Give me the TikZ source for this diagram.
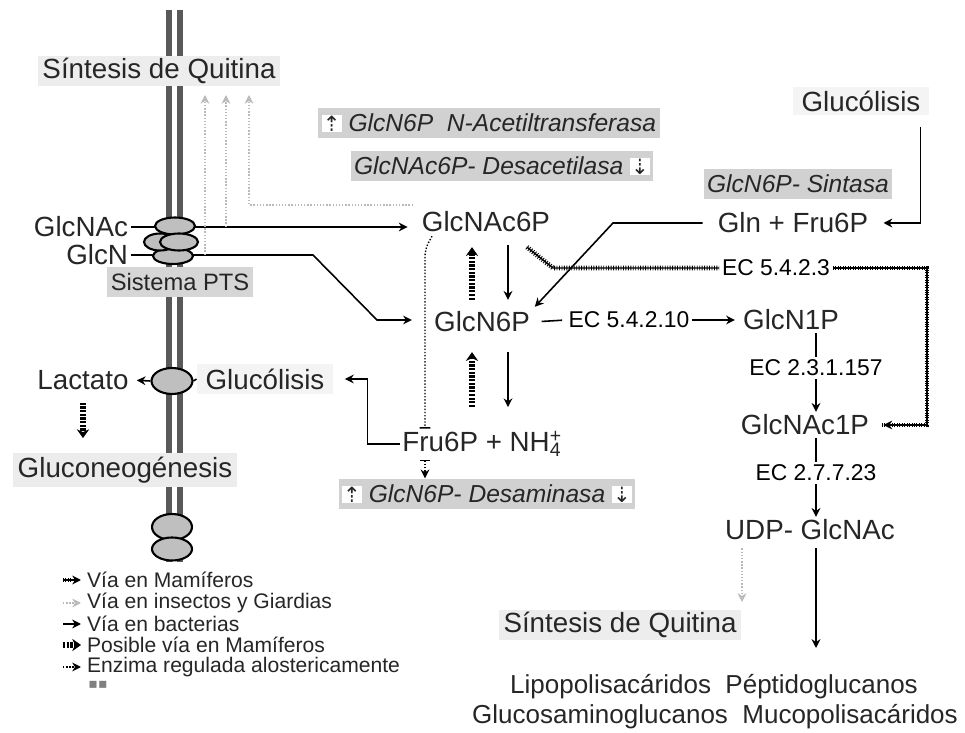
\documentclass[tikz,border=0pt]{standalone}
\usepackage{fontspec}
\setmainfont{Liberation Sans}
\newfontfamily\symf{DejaVu Sans}
\usetikzlibrary{arrows.meta,calc,shapes.geometric}

\newcommand\fbig{\fontsize{15.8}{18}\selectfont}
\newcommand\fec{\fontsize{13}{15}\selectfont}
\newcommand\fenz{\fontsize{14}{16}\selectfont\itshape}
\newcommand\fleg{\fontsize{12}{14}\selectfont}
\newcommand\fpoly{\fontsize{14.8}{17}\selectfont}
\newcommand\upico{{\setlength{\fboxsep}{0.6pt}\colorbox{white}{\symf\upshape\fontsize{12}{12}\selectfont ⇡}}}
\newcommand\downico{{\setlength{\fboxsep}{0.6pt}\colorbox{white}{\symf\upshape\fontsize{12}{12}\selectfont ⇣}}}

\tikzset{
  lbl/.style={font=\fbig, text=black!85, inner sep=1.5pt},
  qbox/.style={lbl, fill=gray!14, minimum height=0.56cm, inner xsep=2.5pt},
  gbox/.style={lbl, fill=gray!9, minimum height=0.6cm, inner xsep=5pt},
  ptsbox/.style={font=\fontsize{13.5}{15}\selectfont, text=black!85, fill=gray!32, minimum height=0.54cm, inner xsep=2pt},
  enz/.style={font=\fenz, text=black!85, fill=gray!36, minimum height=0.56cm, inner xsep=2pt},
  ecl/.style={font=\fec, inner sep=1.5pt},
  leg/.style={font=\fleg, text=black!85, anchor=west, inner sep=1pt},
  memb/.style={line width=3.4pt, color=black!65},
  prot/.style={ellipse, draw, line width=1.2pt, fill=gray!50, inner sep=0pt},
  bac/.style={-{Stealth[length=5pt,width=5pt]}, line width=0.9pt},
  ins/.style={-{Stealth[length=5pt,width=5pt,open]}, gray!55, densely dotted, line width=0.8pt},
  hatch/.style={postaction={draw, -, line width=2.8pt, dash pattern=on 0.5pt off 0.9pt, shorten >=#1}},
  hatch/.default=0pt,
  mam/.style={-{Stealth[length=5pt,width=5pt]}, line width=0.8pt, hatch=5pt},
  mamline/.style={line width=0.8pt, hatch},
  posib/.style={-{Stealth[length=5pt,width=7pt,line width=0.4pt]}, line width=3.6pt, dash pattern=on 1.3pt off 0.8pt},
  alos/.style={densely dotted, line width=0.8pt},
  alosar/.style={alos, -{Stealth[length=5pt,width=5pt]}}
}

\begin{document}
\begin{tikzpicture}[x=0.02cm,y=-0.02cm]
  \useasboundingbox (0,0) rectangle (965,733);

  % membrana
  \draw[memb] (169,10) -- (169,562);
  \draw[memb] (180,10) -- (180,562);

  % puntos de paso
  \coordinate (q1) at (205,95);
  \coordinate (q2) at (226,95);
  \coordinate (q3) at (249,95);
  \coordinate (b1) at (313,255);
  \coordinate (b2) at (377,320);
  \coordinate (b3) at (613,223);
  \coordinate (b4) at (553,268);
  \coordinate (b5) at (927,268);
  \coordinate (al) at (425,0);
  \coordinate (qin) at (742,602);
  \coordinate (pend) at (816,648);

  % nodos
  \node[qbox] (sqtop) at (159,71) {Síntesis de Quitina};
  \node[lbl, anchor=east] (glcnacL) at (131,227) {GlcNAc};
  \node[lbl, anchor=east] (glcnL) at (131,255) {GlcN};
  \node[enz] (acetil) at (489,123) {\upico\ GlcN6P\ \ N-Acetiltransferasa};
  \node[enz] (desac) at (502,166) {GlcNAc6P- Desacetilasa \downico};
  \node[lbl] (glcnac6p) at (486,222) {GlcNAc6P};
  \node[lbl] (glcn6p) at (482,322) {GlcN6P};
  \node[lbl, anchor=base] (fru6p) at (482,452) {Fru6P + NH\rlap{\textsuperscript{+}}\textsubscript{4}};
  \node[enz] (desam) at (487,494) {\upico\ GlcN6P- Desaminasa \downico};
  \node[gbox] (glyc2) at (265,379) {Glucólisis};
  \node[lbl] (lact) at (83,380) {Lactato};
  \node[qbox, fill=gray!15, minimum height=0.7cm] (gluco) at (125,470) {Gluconeogénesis};
  \node[gbox, minimum height=0.56cm] (glyc1) at (861,101) {Glucólisis};
  \node[enz] (sint) at (798,184) {GlcN6P- Sintasa};
  \node[lbl] (glnfru) at (793,223) {Gln + Fru6P};
  \node[ecl] (ec5423) at (776,268) {EC 5.4.2.3};
  \node[ecl] (ec54210) at (629,320) {EC 5.4.2.10};
  \node[lbl] (glcn1p) at (791,320) {GlcN1P};
  \node[ecl] (ec23) at (816,368) {EC 2.3.1.157};
  \node[lbl] (glcnac1p) at (805,425) {GlcNAc1P};
  \node[ecl] (ec27) at (816,473) {EC 2.7.7.23};
  \node[lbl] (udp) at (810,530) {UDP- GlcNAc};
  \node[qbox] (sqbot) at (620,625) {Síntesis de Quitina};
  \node[font=\fpoly, text=black!85] (poly1) at (714,687) {Lipopolisacáridos\ \ Péptidoglucanos};
  \node[font=\fpoly, text=black!85] (poly2) at (715,717) {Glucosaminoglucanos\ \ Mucopolisacáridos};

  % transporte (PTS)
  \draw[bac, shorten >=6.5pt] (glcnacL.east) -- (glcnacL.east -| glcnac6p.west);
  \draw[bac, shorten >=11pt] (glcnL.east) -- (b1) -- (b2) -- (b2 -| glcn6p.west);
  \draw[ins] (q1 |- glcnL.east) -- (q1);
  \draw[ins] (q2 |- glcnacL.east) -- (q2);
  \draw[ins] ($(glcnac6p.north west)+(-6,-4)$) -| (q3);

  \node[prot, minimum width=0.8cm, minimum height=0.34cm] (pa) at (175,226) {};
  \node[prot, minimum width=0.8cm, minimum height=0.32cm] (pb) at (173,256) {};
  \node[prot, minimum width=0.64cm, minimum height=0.34cm] (pc) at (160,242) {};
  \node[prot, minimum width=0.76cm, minimum height=0.34cm] (pd) at (179,242) {};
  \node[ptsbox] (pts) at (180,282) {Sistema PTS};

  % GlcNAc6P <-> GlcN6P <-> Fru6P
  \draw[posib] ($(glcn6p.north)+(-10,-9)$) -- ($(glcnac6p.south)+(-14,12)$);
  \draw[bac] ($(glcnac6p.south)+(22,10)$) -- ($(glcn6p.north)+(26,-9)$);
  \draw[posib] ($(glcn6p.south)+(-10,72)$) -- ($(glcn6p.south)+(-10,17)$);
  \draw[bac] ($(glcn6p.south)+(26,17)$) -- ($(glcn6p.south)+(26,72)$);

  % enzima alosterica
  \draw[alos, -{Bar[width=6pt]}, rounded corners=4pt] ($(glcnac6p.south west)+(13,1)$) -- ($(glcnac6p.south west)+(6,14)$) -- (fru6p.north -| al);
  \draw[alos, {Bar[width=6pt]}-{Stealth[length=5pt,width=5pt]}] (fru6p.south -| al) -- (desam.north -| al);

  % glucolisis / lactato
  \draw[bac, shorten >=6.5pt] (fru6p.west) -- ++(-32,0) |- (glyc2.east);
  \node[prot, minimum width=0.82cm, minimum height=0.52cm] (ell5) at (172,381) {};
  \draw[line width=0.9pt] (glyc2.west) -- (ell5.east);
  \draw[bac, shorten >=3pt] (ell5.west) -- (lact.east);
  \draw[posib, shorten >=8pt] ($(lact.south)+(0,10)$) -- (lact.south |- gluco.north);

  \node[prot, minimum width=0.8cm, minimum height=0.52cm] (be1) at (172,527) {};
  \node[prot, minimum width=0.8cm, minimum height=0.46cm] (be2) at (172,549) {};

  % via de sintesis
  \draw[bac, shorten >=7pt] ($(glyc1.south east)+(-9,12)$) |- (glnfru.east);
  \draw[bac, shorten <=7pt] (glnfru.west) -- (b3) -- ($(glcn6p.north east)+(2,-2)$);
  \draw[mamline] ($(glcnac6p.south east)+(-26,12)$) -- (b4) -- (b4 -| ec5423.west);
  \draw[mam, shorten >=6.5pt] (ec5423.east) -- (b5) |- (glcnac1p.east);
  \draw[line width=0.9pt, shorten <=5pt, shorten >=2pt] (glcn6p.east) -- (ec54210.west);
  \draw[bac, shorten >=3pt] (ec54210.east) -- (glcn1p.west);
  \draw[line width=0.9pt] (glcn1p.south -| ec23.north) -- (ec23.north);
  \draw[bac] (ec23.south) -- (glcnac1p.north -| ec23.south);
  \draw[line width=0.9pt] (glcnac1p.south -| ec27.north) -- (ec27.north);
  \draw[bac] (ec27.south) -- (udp.north -| ec27.south);
  \draw[bac, shorten <=3pt] (udp.south -| pend) -- (pend);
  \draw[ins, shorten <=3pt] (udp.south -| qin) -- (qin);

  % leyenda
  \foreach \n/\y/\s/\t in {1/580/mam/{Vía en Mamíferos}, 2/603/ins/{Vía en insectos y Giardias}, 3/624/bac/{Vía en bacterias}, 4/645/posib/{Posible vía en Mamíferos}, 5/667/alosar/{Enzima regulada alostericamente}}{
    \node[leg] (leg\n) at (85,\y) {\t};
    \draw[\s] ($(leg\n.west)+(-22,0)$) -- ($(leg\n.west)+(-4,0)$);
  }
  \node[text=gray, font=\symf\fontsize{8}{8}\selectfont, inner sep=0pt] (mk) at (98,685) {▪▪};
\end{tikzpicture}
\end{document}
